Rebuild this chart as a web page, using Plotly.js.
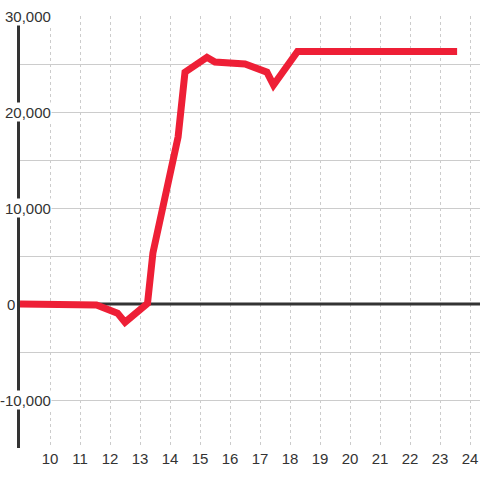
<!DOCTYPE html>
<html><head><meta charset="utf-8">
<script src="https://cdn.plot.ly/plotly-3.0.1.min.js"></script>
<style>html,body{margin:0;padding:0;background:#fff;}#chart{width:480px;height:480px;}</style>
</head><body><div id="chart"></div>
<script>
var xValues = [9, 10.5, 11.55, 12.25, 12.5, 13.25, 13.43, 14.27, 14.5, 15.23, 15.5, 16.5, 17.23, 17.45, 18.25, 23.57];
var yValues = [0, -30, -100, -950, -1900, 50, 5300, 17400, 24150, 25700, 25200, 25000, 24150, 22800, 26300, 26300];
var xTicks = [10, 11, 12, 13, 14, 15, 16, 17, 18, 19, 20, 21, 22, 23, 24];
var yTickVals = [30000, 20000, 10000, 0, -10000];
var yTickText = ["30,000", "20,000", "10,000", "0", "-10,000"];

var FONT = "Liberation Sans, Arial, sans-serif";
var annotations = yTickVals.map(function(v, i){
  return {
    xref: 'paper', yref: 'y', x: 0, y: v,
    xanchor: 'right', yanchor: 'middle',
    xshift: v === 0 ? -4 : 32,
    text: yTickText[i], showarrow: false,
    font: {family: FONT, size: 15, color: '#333'},
    bgcolor: '#ffffff', borderpad: 0, height: 18
  };
});

var trace = {
  x: xValues, y: yValues, type: 'scatter', mode: 'lines',
  line: {color: '#ee1f36', width: 7},
  hoverinfo: 'skip'
};

var layout = {
  width: 480, height: 480,
  margin: {l: 20, r: 0, t: 16, b: 32},
  paper_bgcolor: '#fff', plot_bgcolor: '#fff',
  showlegend: false,
  xaxis: {
    range: [9, 24.333], tickvals: xTicks, ticktext: xTicks.map(String),
    showgrid: true, gridcolor: '#cccccc', gridwidth: 1, griddash: '3px,3px',
    zeroline: false, showline: false, ticks: '',
    tickfont: {family: FONT, size: 15, color: '#333'}
  },
  yaxis: {
    range: [-15000, 30000], dtick: 5000, tick0: 0,
    showgrid: true, gridcolor: '#cccccc', gridwidth: 1,
    zeroline: false, showticklabels: false, ticks: '',
    showline: true, linecolor: '#333', linewidth: 3
  },
  shapes: [
    {type: 'line', xref: 'x', yref: 'y', x0: 9, x1: 24.333, y0: 0, y1: 0,
     line: {color: '#333', width: 3}, layer: 'between'}
  ],
  annotations: annotations
};

Plotly.newPlot('chart', [trace], layout, {staticPlot: true, displayModeBar: false});
</script>
</body></html>
